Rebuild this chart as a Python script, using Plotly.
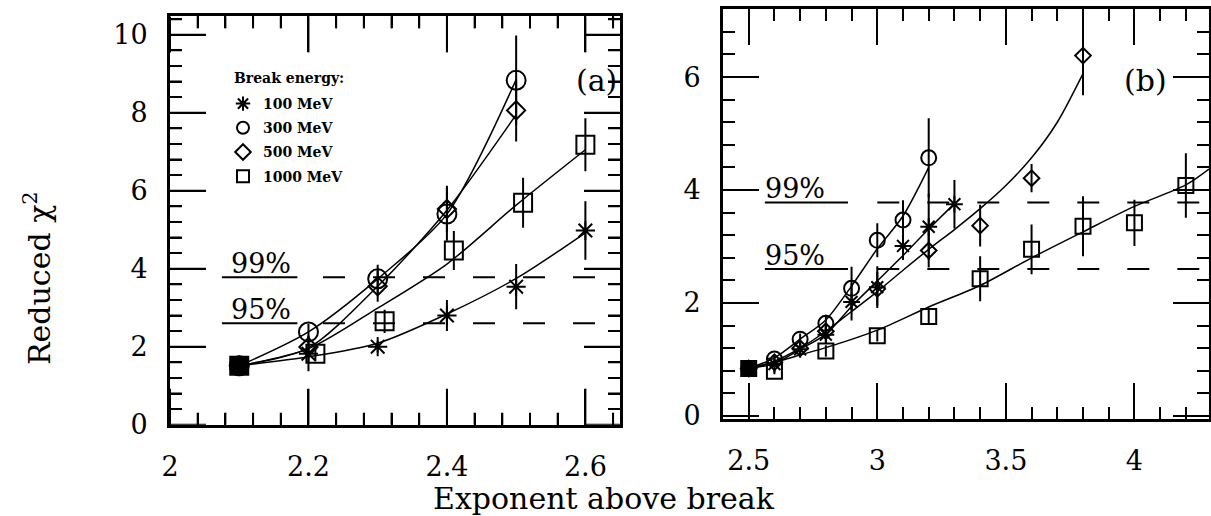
import plotly.graph_objects as go

# ---------------- data: panel (a) ----------------
a_x_100 = [2.1, 2.2, 2.3, 2.4, 2.5, 2.6]
a_y_100 = [1.51, 1.82, 2.00, 2.80, 3.54, 4.98]
a_e_100 = [0.0, 0.45, 0.15, 0.40, 0.58, 0.75]
a_x_300 = [2.1, 2.2, 2.3, 2.4, 2.5]
a_y_300 = [1.51, 2.38, 3.74, 5.40, 8.83]
a_e_300 = [0.0, 0.20, 0.36, 0.68, 1.15]
a_x_500 = [2.1, 2.2, 2.3, 2.4, 2.5]
a_y_500 = [1.51, 1.99, 3.55, 5.53, 8.06]
a_e_500 = [0.0, 0.30, 0.40, 0.60, 0.80]
a_x_1000 = [2.1, 2.21, 2.31, 2.41, 2.51, 2.6]
a_y_1000 = [1.51, 1.82, 2.65, 4.47, 5.69, 7.18]
a_e_1000 = [0.0, 0.20, 0.30, 0.50, 0.64, 0.68]

# fitted curves, panel (a)
a_fx_100 = [2.1, 2.2, 2.3, 2.4, 2.5, 2.6]
a_fy_100 = [1.51, 1.74, 2.09, 2.84, 3.75, 4.92]
a_fx_300 = [2.1, 2.2, 2.3, 2.4, 2.5]
a_fy_300 = [1.51, 2.38, 3.74, 5.40, 8.85]
a_fx_500 = [2.1, 2.2, 2.3, 2.4, 2.5]
a_fy_500 = [1.51, 1.97, 3.55, 5.50, 7.95]
a_fx_1000 = [2.1, 2.2, 2.3, 2.4, 2.5, 2.6]
a_fy_1000 = [1.51, 1.95, 2.99, 4.12, 5.63, 7.05]

# ---------------- data: panel (b) ----------------
b_x_100 = [2.5, 2.6, 2.7, 2.8, 2.9, 3.0, 3.1, 3.2, 3.3]
b_y_100 = [0.84, 0.92, 1.18, 1.44, 2.02, 2.28, 3.01, 3.35, 3.75]
b_e_100 = [0.0, 0.05, 0.10, 0.15, 0.33, 0.37, 0.25, 0.59, 0.43]
b_x_300 = [2.5, 2.6, 2.7, 2.8, 2.9, 3.0, 3.1, 3.2]
b_y_300 = [0.84, 1.01, 1.36, 1.64, 2.26, 3.11, 3.47, 4.57]
b_e_300 = [0.0, 0.05, 0.10, 0.15, 0.38, 0.30, 0.35, 0.70]
b_x_500 = [2.5, 2.6, 2.7, 2.8, 3.0, 3.2, 3.4, 3.6, 3.8]
b_y_500 = [0.84, 0.95, 1.20, 1.50, 2.25, 2.93, 3.37, 4.21, 6.38]
b_e_500 = [0.0, 0.05, 0.08, 0.12, 0.30, 0.30, 0.37, 0.25, 0.70]
b_x_1000 = [2.5, 2.6, 2.8, 3.0, 3.2, 3.4, 3.6, 3.8, 4.0, 4.2]
b_y_1000 = [0.84, 0.79, 1.15, 1.42, 1.76, 2.43, 2.95, 3.36, 3.42, 4.08]
b_e_1000 = [0.0, 0.05, 0.10, 0.10, 0.12, 0.40, 0.44, 0.53, 0.41, 0.57]

# fitted curves, panel (b)
b_fx_100 = [2.5, 2.6, 2.7, 2.8, 2.9, 3.0, 3.1, 3.2, 3.3]
b_fy_100 = [0.84, 0.93, 1.18, 1.45, 1.94, 2.39, 2.84, 3.31, 3.76]
b_fx_300 = [2.5, 2.6, 2.7, 2.8, 2.9, 3.0, 3.1, 3.2]
b_fy_300 = [0.84, 1.03, 1.36, 1.70, 2.30, 2.96, 3.54, 4.40]
b_fx_500 = [2.5, 2.6, 2.7, 2.8, 2.9, 3.0, 3.1, 3.2, 3.3, 3.4, 3.5, 3.6, 3.7, 3.8]
b_fy_500 = [0.84, 0.97, 1.20, 1.50, 1.85, 2.20, 2.58, 2.95, 3.30, 3.67, 4.08, 4.57, 5.20, 6.06]
b_fx_1000 = [2.5, 2.6, 2.7, 2.8, 3.0, 3.2, 3.4, 3.6, 3.8, 4.0, 4.2, 4.29]
b_fy_1000 = [0.84, 0.95, 1.08, 1.21, 1.52, 1.93, 2.31, 2.80, 3.26, 3.71, 4.09, 4.37]

# confidence levels (reduced chi^2)
levels = [3.78, 2.60]
level_labels = ["99%", "95%"]

series_names = ["100 MeV", "300 MeV", "500 MeV", "1000 MeV"]

# ---------------- styling ----------------
SERIF = "DejaVu Serif"
BLACK = "black"
symbols = ["asterisk-open", "circle-open", "diamond-open", "square-open"]
sizes_a = [16, 19, 14, 18]
sizes_b = [14, 15, 12, 15]

fig = go.Figure()

# legend entries live on a hidden helper axis pair (x / y)
for i, nm in enumerate(series_names):
    fig.add_trace(go.Scatter(
        x=[None], y=[None], xaxis="x", yaxis="y", mode="markers", name=nm,
        legendgroup=nm,
        marker=dict(symbol=symbols[i], size=8, color=BLACK,
                    line=dict(color=BLACK, width=2))))

panels = [
    ("x2", "y2", sizes_a,
     [(a_x_100, a_y_100, a_e_100), (a_x_300, a_y_300, a_e_300),
      (a_x_500, a_y_500, a_e_500), (a_x_1000, a_y_1000, a_e_1000)],
     [(a_fx_100, a_fy_100), (a_fx_300, a_fy_300),
      (a_fx_500, a_fy_500), (a_fx_1000, a_fy_1000)]),
    ("x3", "y3", sizes_b,
     [(b_x_100, b_y_100, b_e_100), (b_x_300, b_y_300, b_e_300),
      (b_x_500, b_y_500, b_e_500), (b_x_1000, b_y_1000, b_e_1000)],
     [(b_fx_100, b_fy_100), (b_fx_300, b_fy_300),
      (b_fx_500, b_fy_500), (b_fx_1000, b_fy_1000)]),
]

for xa, ya, sizes, pts, fits in panels:
    for (fx, fy) in fits:
        fig.add_trace(go.Scatter(
            x=fx, y=fy, xaxis=xa, yaxis=ya, mode="lines",
            line=dict(color=BLACK, width=1.5, shape="spline", smoothing=0.8),
            showlegend=False, hoverinfo="skip"))
    for i, (px, py, pe) in enumerate(pts):
        sym = symbols[i]
        if i == 3:
            sym = ["square"] + ["square-open"] * (len(px) - 1)
        fig.add_trace(go.Scatter(
            x=px, y=py, xaxis=xa, yaxis=ya, mode="markers",
            marker=dict(symbol=sym, size=sizes[i], color=BLACK,
                        line=dict(color=BLACK, width=2)),
            error_y=dict(type="data", array=pe, visible=True,
                         color=BLACK, thickness=2, width=0),
            showlegend=False))

# confidence level lines
shapes = []
annotations = []
level_geom = [
    ("x2", "y2", 2.075, 2.184, 2.221, 2.65, 2.131),
    ("x3", "y3", 2.563, 2.886, 3.0, 4.29, 2.68),
]
for xr, yr, u0, u1, d0, d1, tx in level_geom:
    for lv, lab in zip(levels, level_labels):
        shapes.append(dict(type="line", xref=xr, yref=yr, x0=u0, x1=u1,
                           y0=lv, y1=lv, line=dict(color=BLACK, width=2)))
        shapes.append(dict(type="line", xref=xr, yref=yr, x0=d0, x1=d1,
                           y0=lv, y1=lv,
                           line=dict(color=BLACK, width=2, dash="22px,28px")))
        annotations.append(dict(xref=xr, yref=yr, x=tx, y=lv, text=lab,
                                showarrow=False, xanchor="center",
                                yanchor="bottom", yshift=-4,
                                font=dict(family=SERIF, size=27, color=BLACK)))

# ---------------- axes ----------------
xa_rng, ya_rng = [2.0, 2.65], [0, 10.47]
xb_rng, yb_rng = [2.4, 4.29], [-0.05, 7.2]
xa_dom = [170 / 1211, 620 / 1211]
ya_dom = [1 - 424.7 / 516, 1 - 16.4 / 516]
xb_dom = [723 / 1211, 1209 / 1211]
yb_dom = [1 - 418.8 / 516, 1 - 9.3 / 516]

# panel (a) tick marks, drawn as axis decorations on all four sides
MAJ, MIN = 36, 12
wa_px = (xa_dom[1] - xa_dom[0]) * 1211
ha_px = (ya_dom[1] - ya_dom[0]) * 516
tick_line = dict(color=BLACK, width=2)
k = 0
while True:
    xv = round(xa_rng[0] + k * 0.04, 6)
    if xv > xa_rng[1] + 1e-9:
        break
    L = (MAJ if k % 5 == 0 else MIN) / ha_px
    shapes.append(dict(type="line", xref="x2", yref="y2 domain", x0=xv, x1=xv,
                       y0=0, y1=L, line=tick_line))
    shapes.append(dict(type="line", xref="x2", yref="y2 domain", x0=xv, x1=xv,
                       y0=1 - L, y1=1, line=tick_line))
    k += 1
k = 0
while True:
    yv = round(ya_rng[0] + k * 0.4, 6)
    if yv > ya_rng[1] + 1e-9:
        break
    L = (MAJ if k % 5 == 0 else MIN) / wa_px
    shapes.append(dict(type="line", xref="x2 domain", yref="y2", x0=0, x1=L,
                       y0=yv, y1=yv, line=tick_line))
    shapes.append(dict(type="line", xref="x2 domain", yref="y2", x0=1 - L, x1=1,
                       y0=yv, y1=yv, line=tick_line))
    k += 1

def ptext(x, y, text, size, **kw):
    d = dict(xref="paper", yref="paper", x=x / 1211, y=1 - y / 516, text=text,
             showarrow=False, xanchor="center", yanchor="middle",
             font=dict(family=SERIF, size=size, color=BLACK))
    d.update(kw)
    return d

annotations += [
    ptext(596, 80, "(a)", 30),
    ptext(1145, 80, "(b)", 30),
    ptext(232, 78, "<b>Break energy:</b>", 14, xanchor="left"),
    ptext(604, 498, "Exponent above break", 30),
    ptext(37, 278, "Reduced χ<sup>2</sup>", 30, textangle=-90),
]

def major_axis(rng, dtick, domain, anchor, standoff, minor_dtick):
    return dict(
        range=rng, domain=domain, anchor=anchor, dtick=dtick,
        showline=True, linewidth=3, linecolor=BLACK, mirror="ticks",
        ticks="inside", ticklen=MAJ, tickwidth=2, tickcolor=BLACK,
        showgrid=False, zeroline=False, automargin=False,
        tickfont=dict(family=SERIF, size=27, color=BLACK),
        ticklabelstandoff=standoff,
        minor=dict(dtick=minor_dtick, ticks="inside", ticklen=MIN,
                   tickwidth=2, tickcolor=BLACK),
    )

fig.update_layout(
    width=1211, height=516,
    margin=dict(l=0, r=0, t=0, b=0),
    paper_bgcolor="white", plot_bgcolor="white",
    xaxis=dict(visible=False, domain=[0, 0.02], anchor="y", range=[0, 1]),
    yaxis=dict(visible=False, domain=[0, 0.02], anchor="x", range=[0, 1]),
    xaxis2=major_axis(xa_rng, 0.2, xa_dom, "y2", 16, 0.04),
    yaxis2=major_axis(ya_rng, 2, ya_dom, "x2", 14, 0.4),
    xaxis3=major_axis(xb_rng, 0.5, xb_dom, "y3", 16, 0.1),
    yaxis3=major_axis(yb_rng, 2, yb_dom, "x3", 14, 0.4),
    shapes=shapes,
    annotations=annotations,
    showlegend=True,
    legend=dict(x=223 / 1211, y=1 - 88 / 516, xanchor="left", yanchor="top",
                bgcolor="rgba(0,0,0,0)", tracegroupgap=3,
                font=dict(family=SERIF, size=14, color=BLACK, weight="bold"),
                itemsizing="constant"),
)

fig.write_html("out.html")
